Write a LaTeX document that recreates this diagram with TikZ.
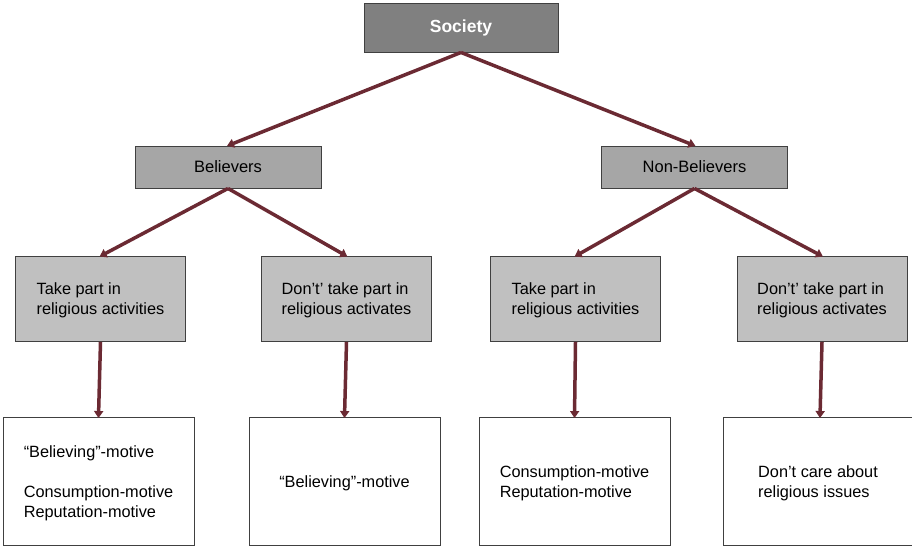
\documentclass[tikz,border=0pt]{standalone}
\usepackage{fontspec}
\setmainfont{Liberation Sans}
\usetikzlibrary{arrows.meta}
\definecolor{maroon}{HTML}{6B2A33}
\definecolor{topfill}{HTML}{808080}
\definecolor{midfill}{HTML}{A6A6A6}
\definecolor{lowfill}{HTML}{C0C0C0}
\definecolor{edge}{HTML}{404040}
\tikzset{
  box/.style={draw=edge, line width=0.9pt, inner sep=0pt, anchor=center},
  topbox/.style={box, fill=topfill, minimum width=194pt, minimum height=49pt, text=white, font=\fontsize{17.5}{20}\selectfont\bfseries},
  midbox/.style={box, fill=midfill, minimum width=186pt, minimum height=42pt, font=\fontsize{16.5}{20}\selectfont},
  lowbox/.style={box, fill=lowfill, minimum width=170pt, minimum height=85pt, align=left, text depth=-0.5pt, font=\fontsize{16.3}{20}\selectfont},
  leafbox/.style={box, fill=white, minimum width=191pt, minimum height=128pt, align=left, text depth=-4.5pt, font=\fontsize{16.3}{20}\selectfont},
  conn/.style={draw=maroon, line width=3.5pt, -{Triangle[length=7pt,width=9pt]}, shorten >=-1pt}
}
\begin{document}
\begin{tikzpicture}[x=1pt,y=-1pt]
\useasboundingbox (0,0) rectangle (912,552);
\node[topbox] (soc) at (461,27.5) {Society};
\node[midbox] (bel) at (228,167) {Believers};
\node[midbox] (non) at (694.5,167) {Non-Believers};
\node[lowbox] (b1) at (100.5,299) {Take part in\\religious activities};
\node[lowbox] (b2) at (346.5,299) {Don’t’ take part in\\religious activates};
\node[lowbox] (n1) at (575.5,299) {Take part in\\religious activities};
\node[lowbox] (n2) at (822,299) {Don’t’ take part in\\religious activates};
\node[leafbox] (l1) at (98.5,481.5) {“Believing”-motive\\[20pt]Consumption-motive\\Reputation-motive};
\node[leafbox] (l2) at (344.5,481.5) {“Believing”-motive};
\node[leafbox] (l3) at (574.5,481.5) {Consumption-motive\\Reputation-motive};
\node[leafbox, minimum width=189pt] (l4) at (818,481.5) {Don’t care about\\religious issues};
\draw[conn] (soc.south) -- (bel.north);
\draw[conn] (soc.south) -- (non.north);
\draw[conn] (bel.south) -- (b1.north);
\draw[conn] (bel.south) -- (b2.north);
\draw[conn] (non.south) -- (n1.north);
\draw[conn] (non.south) -- (n2.north);
\draw[conn] (b1.south) -- (l1.north);
\draw[conn] (b2.south) -- (l2.north);
\draw[conn] (n1.south) -- (l3.north);
\draw[conn] (n2.south) -- (l4.north -| 820,0);
\end{tikzpicture}
\end{document}
